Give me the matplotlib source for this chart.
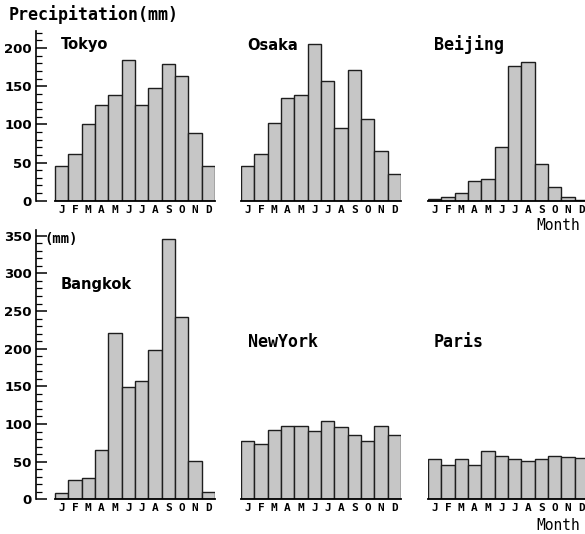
import matplotlib
matplotlib.use("Agg")
import matplotlib.pyplot as plt
from matplotlib.ticker import MultipleLocator

# monthly precipitation (mm)
months = ["J", "F", "M", "A", "M", "J", "J", "A", "S", "O", "N", "D"]
tokyo = [46, 61, 100, 125, 138, 185, 126, 148, 179, 164, 89, 46]
osaka = [46, 61, 102, 134, 139, 206, 157, 95, 171, 107, 65, 35]
beijing = [2, 5, 10, 26, 29, 71, 176, 182, 48, 18, 5, 1]
bangkok = [9, 25, 28, 66, 221, 149, 157, 198, 346, 242, 51, 10]
newyork = [77, 73, 92, 98, 98, 91, 104, 96, 86, 77, 98, 86]
paris = [54, 46, 53, 45, 64, 57, 53, 51, 53, 58, 56, 55]

W, H = 585, 534
BAR_COLOR = "#c6c6c6"
EDGE = "#1e1e1e"
MONO = "DejaVu Sans Mono"


def add_panel(fig, left_px, zero_px, width_px, scale, ymax, xlo, values, name,
              name_xy, name_font, show_y=False, ymajor=None):
    height_px = ymax * scale
    rect = [left_px / W, (H - zero_px) / H, width_px / W, height_px / H]
    ax = fig.add_axes(rect)
    ax.bar(range(12), values, width=1.0, color=BAR_COLOR, edgecolor=EDGE,
           linewidth=1.0)
    ax.set_xlim(xlo, 11.5)
    ax.set_ylim(0, ymax)
    for s in ["top", "right"]:
        ax.spines[s].set_visible(False)
    ax.spines["bottom"].set_bounds(-0.5, 11.5)
    ax.spines["bottom"].set_linewidth(1.3)
    ax.set_xticks(range(12))
    ax.set_xticklabels(months, fontfamily=MONO, fontweight="bold", fontsize=8)
    ax.tick_params(axis="x", length=0, pad=3)
    if show_y:
        ax.spines["left"].set_linewidth(1.2)
        ax.set_yticks(ymajor)
        ax.yaxis.set_minor_locator(MultipleLocator(10))
        ax.tick_params(axis="y", which="major", direction="in", length=8,
                       width=1.1, pad=3, labelsize=9.5)
        ax.tick_params(axis="y", which="minor", direction="in", length=4,
                       width=0.9)
        for lab in ax.get_yticklabels():
            lab.set_fontweight("bold")
    else:
        ax.spines["left"].set_visible(False)
        ax.set_yticks([])
    ax.patch.set_alpha(0)
    fig.text(name_xy[0] / W, 1 - name_xy[1] / H, name, ha="left", va="center",
             fontsize=name_font[1], fontfamily=name_font[0], fontweight="bold")
    return ax


fig = plt.figure(figsize=(W / 100, H / 100), dpi=100)

unit = 160 / 12.0
left_lo = -0.5 - 19 / unit
sans = ("DejaVu Sans", 10.5)
mono = (MONO, 12)

# top row
add_panel(fig, 36, 200.7, 179, 0.763, 222, left_lo, tokyo, "Tokyo",
          (61, 45), sans, show_y=True, ymajor=[0, 50, 100, 150, 200])
add_panel(fig, 241, 200.7, 160, 0.763, 222, -0.5, osaka, "Osaka",
          (247, 45), sans)
add_panel(fig, 428, 200.7, 160, 0.763, 222, -0.5, beijing, "Beijing",
          (434, 45), mono)

# bottom row
add_panel(fig, 36, 499.3, 179, 0.753, 357, left_lo, bangkok, "Bangkok",
          (61, 285), sans, show_y=True,
          ymajor=[0, 50, 100, 150, 200, 250, 300, 350])
add_panel(fig, 241, 499.3, 160, 0.753, 357, -0.5, newyork, "NewYork",
          (248, 342), mono)
add_panel(fig, 428, 499.3, 160, 0.753, 357, -0.5, paris, "Paris",
          (434, 342), mono)

fig.text(9 / W, 1 - 15 / H, "Precipitation(mm)", ha="left", va="center",
         fontsize=12, fontfamily=MONO, fontweight="bold")
fig.text(44 / W, 1 - 239 / H, "(mm)", ha="left", va="center",
         fontsize=10, fontfamily=MONO, fontweight="bold")
for y in [226, 525]:
    fig.text(580 / W, 1 - y / H, "Month", ha="right", va="center",
             fontsize=10.5, fontfamily=MONO)

fig.savefig("out.png", dpi=100)
